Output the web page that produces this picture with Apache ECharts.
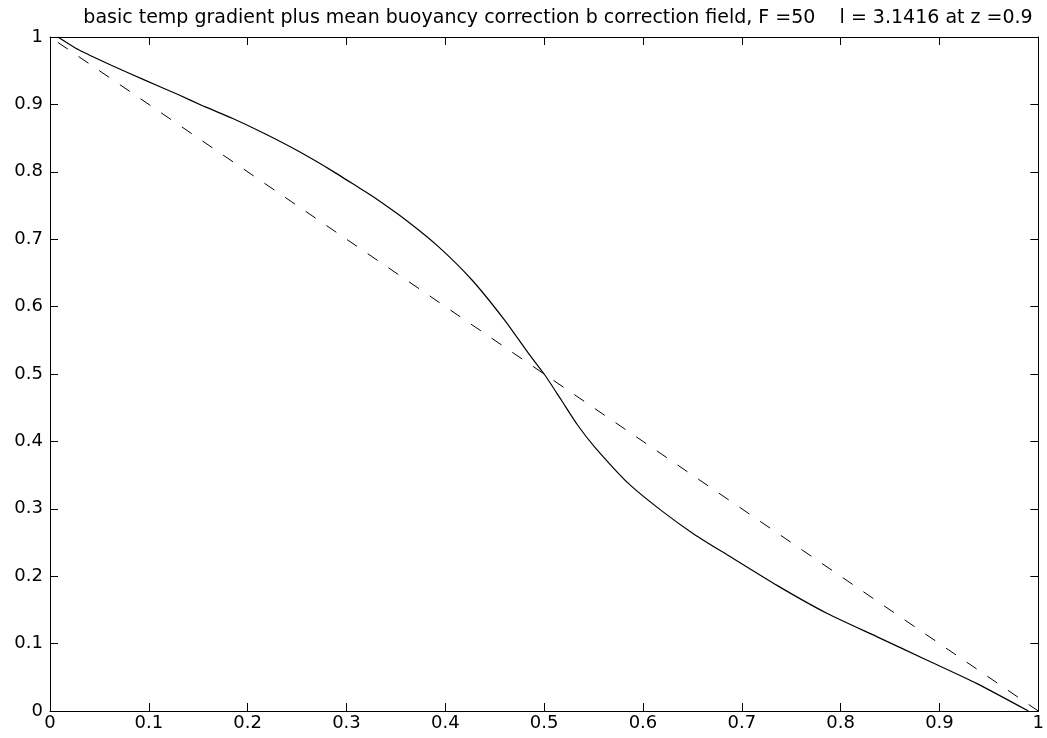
<!DOCTYPE html>
<html>
<head>
<meta charset="utf-8">
<script src="https://cdn.jsdelivr.net/npm/echarts@6/dist/echarts.min.js"></script>
<style>html,body{margin:0;padding:0;background:#fff;}#c{width:1047px;height:738px;}</style>
</head>
<body>
<div id="c"></div>
<script>
const titleText = 'basic temp gradient plus mean buoyancy correction b correction field, F =50    l = 3.1416 at z =0.9';
const solidX = [0.008,0.029,0.062,0.096,0.129,0.156,0.185,0.218,0.252,0.286,0.313,0.326,0.360,0.393,0.427,0.460,0.484,0.5007,0.5175,0.534,0.551,0.585,0.618,0.652,0.686,0.736,0.786,0.837,0.887,0.9375,0.990];
const solidY = [1.0,0.981,0.958,0.936,0.915,0.897,0.879,0.856,0.830,0.801,0.776,0.764,0.7285,0.689,0.6395,0.580,0.531,0.4985,0.461,0.424,0.392,0.338,0.298,0.262,0.231,0.186,0.145,0.110,0.0757,0.041,0.0];
const dashX = [0.008,1.0];
const dashY = [0.992,0.0];
const xTicks = [0,0.1,0.2,0.3,0.4,0.5,0.6,0.7,0.8,0.9,1];
const yTicks = [0,0.1,0.2,0.3,0.4,0.5,0.6,0.7,0.8,0.9,1];

const zip = (a,b) => a.map((v,i)=>[v,b[i]]);
const fmt = v => { const r = Math.round(v*10)/10; return String(r); };
const font = 'DejaVu Sans, sans-serif';
const axisCommon = {
  type:'value', min:0, max:1, interval:0.1,
  axisLine:{show:true, onZero:false, lineStyle:{color:'#000', width:1}},
  axisTick:{show:true, inside:true, length:8, lineStyle:{color:'#000', width:1}},
  splitLine:{show:false}
};
const chart = echarts.init(document.getElementById('c'), null, {renderer:'canvas'});
chart.setOption({
  animation:false,
  backgroundColor:'#fff',
  title:{text:titleText, left:553, textAlign:'center', top:4,
    textStyle:{fontFamily:font, fontSize:19, fontWeight:'normal', color:'#000'}},
  grid:{left:50, right:5, top:37, bottom:27, containLabel:false},
  xAxis:[
    Object.assign({}, axisCommon, {position:'bottom',
      axisLabel:{show:true, margin:3, color:'#000', fontFamily:font, fontSize:18, formatter:fmt}}),
    Object.assign({}, axisCommon, {position:'top', axisLabel:{show:false}})
  ],
  yAxis:[
    Object.assign({}, axisCommon, {position:'left',
      axisLabel:{show:true, margin:7, color:'#000', fontFamily:font, fontSize:18, formatter:fmt}}),
    Object.assign({}, axisCommon, {position:'right', axisLabel:{show:false}})
  ],
  series:[
    {type:'line', data:zip(solidX,solidY), showSymbol:false, smooth:0.2,
     lineStyle:{color:'#000', width:1.2}, xAxisIndex:0, yAxisIndex:0},
    {type:'line', data:zip(dashX,dashY), showSymbol:false,
     lineStyle:{color:'#000', width:1, type:[12,13]}, xAxisIndex:0, yAxisIndex:0}
  ]
});
</script>
</body>
</html>
